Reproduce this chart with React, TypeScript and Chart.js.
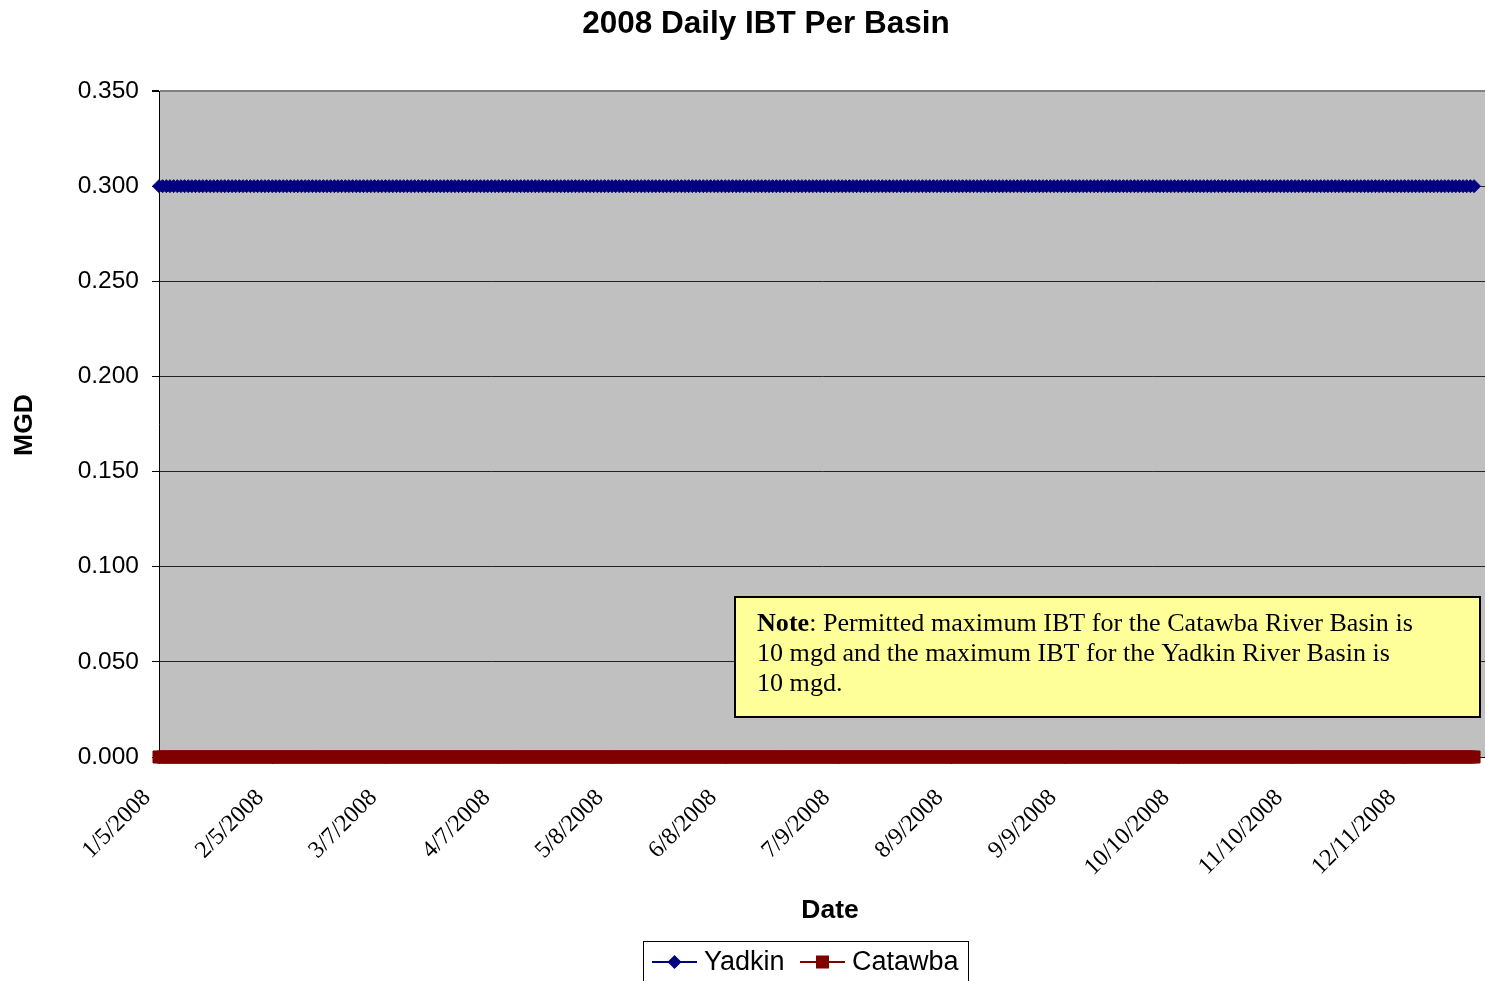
import React, { useEffect, useRef } from "react";
import { Chart, registerables } from "chart.js";

Chart.register(...registerables);

const chartTitle = "2008 Daily IBT Per Basin";
const yAxisTitle = "MGD";
const xAxisTitle = "Date";
const seriesNames = ["Yadkin", "Catawba"];
const seriesColors = ["#000080", "#800000"];

// day offsets (from 1/5/2008) of the category ticks and their labels
const tickDays = [0, 31, 62, 93, 124, 155, 186, 217, 248, 279, 310, 341];
const tickLabels = [
  "1/5/2008", "2/5/2008", "3/7/2008", "4/7/2008", "5/8/2008", "6/8/2008",
  "7/9/2008", "8/9/2008", "9/9/2008", "10/10/2008", "11/10/2008", "12/11/2008",
];
const yTicks = [0, 0.05, 0.1, 0.15, 0.2, 0.25, 0.3, 0.35];

// daily values, 1/5/2008 .. 12/30/2008 (361 days)
const yadkin = [
  0.3,0.3,0.3,0.3,0.3, 0.3,0.3,0.3,0.3,0.3, 0.3,0.3,0.3,0.3,0.3, 0.3,0.3,0.3,0.3,
  0.3,0.3,0.3,0.3,0.3, 0.3,0.3,0.3,0.3,0.3, 0.3,0.3,0.3,0.3,0.3, 0.3,0.3,0.3,0.3,
  0.3,0.3,0.3,0.3,0.3, 0.3,0.3,0.3,0.3,0.3, 0.3,0.3,0.3,0.3,0.3, 0.3,0.3,0.3,0.3,
  0.3,0.3,0.3,0.3,0.3, 0.3,0.3,0.3,0.3,0.3, 0.3,0.3,0.3,0.3,0.3, 0.3,0.3,0.3,0.3,
  0.3,0.3,0.3,0.3,0.3, 0.3,0.3,0.3,0.3,0.3, 0.3,0.3,0.3,0.3,0.3, 0.3,0.3,0.3,0.3,
  0.3,0.3,0.3,0.3,0.3, 0.3,0.3,0.3,0.3,0.3, 0.3,0.3,0.3,0.3,0.3, 0.3,0.3,0.3,0.3,
  0.3,0.3,0.3,0.3,0.3, 0.3,0.3,0.3,0.3,0.3, 0.3,0.3,0.3,0.3,0.3, 0.3,0.3,0.3,0.3,
  0.3,0.3,0.3,0.3,0.3, 0.3,0.3,0.3,0.3,0.3, 0.3,0.3,0.3,0.3,0.3, 0.3,0.3,0.3,0.3,
  0.3,0.3,0.3,0.3,0.3, 0.3,0.3,0.3,0.3,0.3, 0.3,0.3,0.3,0.3,0.3, 0.3,0.3,0.3,0.3,
  0.3,0.3,0.3,0.3,0.3, 0.3,0.3,0.3,0.3,0.3, 0.3,0.3,0.3,0.3,0.3, 0.3,0.3,0.3,0.3,
  0.3,0.3,0.3,0.3,0.3, 0.3,0.3,0.3,0.3,0.3, 0.3,0.3,0.3,0.3,0.3, 0.3,0.3,0.3,0.3,
  0.3,0.3,0.3,0.3,0.3, 0.3,0.3,0.3,0.3,0.3, 0.3,0.3,0.3,0.3,0.3, 0.3,0.3,0.3,0.3,
  0.3,0.3,0.3,0.3,0.3, 0.3,0.3,0.3,0.3,0.3, 0.3,0.3,0.3,0.3,0.3, 0.3,0.3,0.3,0.3,
  0.3,0.3,0.3,0.3,0.3, 0.3,0.3,0.3,0.3,0.3, 0.3,0.3,0.3,0.3,0.3, 0.3,0.3,0.3,0.3,
  0.3,0.3,0.3,0.3,0.3, 0.3,0.3,0.3,0.3,0.3, 0.3,0.3,0.3,0.3,0.3, 0.3,0.3,0.3,0.3,
  0.3,0.3,0.3,0.3,0.3, 0.3,0.3,0.3,0.3,0.3, 0.3,0.3,0.3,0.3,0.3, 0.3,0.3,0.3,0.3,
  0.3,0.3,0.3,0.3,0.3, 0.3,0.3,0.3,0.3,0.3, 0.3,0.3,0.3,0.3,0.3, 0.3,0.3,0.3,0.3,
  0.3,0.3,0.3,0.3,0.3, 0.3,0.3,0.3,0.3,0.3, 0.3,0.3,0.3,0.3,0.3, 0.3,0.3,0.3,0.3,
  0.3,0.3,0.3,0.3,0.3, 0.3,0.3,0.3,0.3,0.3, 0.3,0.3,0.3,0.3,0.3, 0.3,0.3,0.3,0.3,
];
const catawba = [
  0,0,0,0,0, 0,0,0,0,0, 0,0,0,0,0, 0,0,0,0,
  0,0,0,0,0, 0,0,0,0,0, 0,0,0,0,0, 0,0,0,0,
  0,0,0,0,0, 0,0,0,0,0, 0,0,0,0,0, 0,0,0,0,
  0,0,0,0,0, 0,0,0,0,0, 0,0,0,0,0, 0,0,0,0,
  0,0,0,0,0, 0,0,0,0,0, 0,0,0,0,0, 0,0,0,0,
  0,0,0,0,0, 0,0,0,0,0, 0,0,0,0,0, 0,0,0,0,
  0,0,0,0,0, 0,0,0,0,0, 0,0,0,0,0, 0,0,0,0,
  0,0,0,0,0, 0,0,0,0,0, 0,0,0,0,0, 0,0,0,0,
  0,0,0,0,0, 0,0,0,0,0, 0,0,0,0,0, 0,0,0,0,
  0,0,0,0,0, 0,0,0,0,0, 0,0,0,0,0, 0,0,0,0,
  0,0,0,0,0, 0,0,0,0,0, 0,0,0,0,0, 0,0,0,0,
  0,0,0,0,0, 0,0,0,0,0, 0,0,0,0,0, 0,0,0,0,
  0,0,0,0,0, 0,0,0,0,0, 0,0,0,0,0, 0,0,0,0,
  0,0,0,0,0, 0,0,0,0,0, 0,0,0,0,0, 0,0,0,0,
  0,0,0,0,0, 0,0,0,0,0, 0,0,0,0,0, 0,0,0,0,
  0,0,0,0,0, 0,0,0,0,0, 0,0,0,0,0, 0,0,0,0,
  0,0,0,0,0, 0,0,0,0,0, 0,0,0,0,0, 0,0,0,0,
  0,0,0,0,0, 0,0,0,0,0, 0,0,0,0,0, 0,0,0,0,
  0,0,0,0,0, 0,0,0,0,0, 0,0,0,0,0, 0,0,0,0,
];

const noteBold = "Note";
const noteLines = [
  ": Permitted maximum IBT for the Catawba River Basin is",
  "10 mgd and the maximum IBT for the Yadkin River Basin is",
  "10 mgd.",
];

const SANS = "'Liberation Sans', Arial, sans-serif";
const SERIF = "'Liberation Serif', 'Times New Roman', serif";

function drawMarker(ctx: CanvasRenderingContext2D, kind: number, x: number, y: number, color: string) {
  ctx.fillStyle = color;
  ctx.beginPath();
  if (kind === 0) {
    const r = 7;
    ctx.moveTo(x, y - r);
    ctx.lineTo(x + r, y);
    ctx.lineTo(x, y + r);
    ctx.lineTo(x - r, y);
    ctx.closePath();
  } else {
    ctx.rect(x - 6.5, y - 6.5, 13, 13);
  }
  ctx.fill();
}

const decorPlugin = {
  id: "decor",
  beforeDraw(chart: any) {
    const { ctx, chartArea: a } = chart;
    ctx.save();
    ctx.fillStyle = "#C0C0C0";
    ctx.fillRect(a.left, a.top, a.right - a.left, a.bottom - a.top);
    ctx.restore();
  },
  afterDraw(chart: any) {
    const { ctx } = chart;
    ctx.save();
    ctx.fillStyle = "#000";
    // title
    ctx.font = `bold 31.5px ${SANS}`;
    ctx.textAlign = "center";
    ctx.textBaseline = "middle";
    ctx.fillText(chartTitle, 766, 24);
    // axis titles
    ctx.font = `bold 26.5px ${SANS}`;
    ctx.fillText(xAxisTitle, 830, 911);
    ctx.save();
    ctx.translate(25, 425);
    ctx.rotate(-Math.PI / 2);
    ctx.fillText(yAxisTitle, 0, 0);
    ctx.restore();

    // note box
    ctx.fillStyle = "#FFFF99";
    ctx.fillRect(735, 597, 745, 120);
    ctx.strokeStyle = "#000";
    ctx.lineWidth = 2;
    ctx.strokeRect(735, 597, 745, 120);
    let fs = 22;
    ctx.font = `bold ${fs}px ${SERIF}`;
    let wb = ctx.measureText(noteBold).width;
    ctx.font = `${fs}px ${SERIF}`;
    let wr = ctx.measureText(noteLines[0]).width;
    fs = fs * 656 / (wb + wr);
    ctx.textAlign = "left";
    ctx.textBaseline = "alphabetic";
    ctx.fillStyle = "#000";
    ctx.font = `bold ${fs}px ${SERIF}`;
    ctx.fillText(noteBold, 757, 631);
    wb = ctx.measureText(noteBold).width;
    ctx.font = `${fs}px ${SERIF}`;
    ctx.fillText(noteLines[0], 757 + wb, 631);
    ctx.fillText(noteLines[1], 757, 661);
    ctx.fillText(noteLines[2], 757, 691);

    // legend
    ctx.fillStyle = "#FFFFFF";
    ctx.fillRect(643, 941, 325, 50);
    ctx.strokeStyle = "#000";
    ctx.lineWidth = 1;
    ctx.strokeRect(643.5, 941.5, 325, 50);
    const items = [
      { lx: 652, tx: 704 },
      { lx: 800, tx: 852 },
    ];
    items.forEach((it, i) => {
      const y = 962;
      ctx.strokeStyle = seriesColors[i];
      ctx.lineWidth = 2;
      ctx.beginPath();
      ctx.moveTo(it.lx, y);
      ctx.lineTo(it.lx + 45, y);
      ctx.stroke();
      drawMarker(ctx, i, it.lx + 22.5, y, seriesColors[i]);
      ctx.fillStyle = "#000";
      ctx.font = `27px ${SANS}`;
      ctx.textAlign = "left";
      ctx.textBaseline = "middle";
      ctx.fillText(seriesNames[i], it.tx, y + 1);
    });
    ctx.restore();
  },
};

export default function App() {
  const ref = useRef<HTMLCanvasElement | null>(null);
  useEffect(() => {
    if (!ref.current) return;
    const toPoints = (arr: number[]) => arr.map((v, i) => ({ x: i, y: v }));
    const chart = new Chart(ref.current, {
      type: "line",
      data: {
        datasets: [
          {
            label: seriesNames[0],
            data: toPoints(yadkin),
            borderColor: seriesColors[0],
            backgroundColor: seriesColors[0],
            pointBackgroundColor: seriesColors[0],
            pointBorderColor: seriesColors[0],
            pointStyle: "rectRot",
            pointRadius: 6.5,
            pointBorderWidth: 1,
            borderWidth: 2,
            clip: false,
          } as any,
          {
            label: seriesNames[1],
            data: toPoints(catawba),
            borderColor: seriesColors[1],
            backgroundColor: seriesColors[1],
            pointBackgroundColor: seriesColors[1],
            pointBorderColor: seriesColors[1],
            pointStyle: "rect",
            pointRadius: 8.5,
            pointBorderWidth: 1,
            borderWidth: 2,
            clip: false,
          } as any,
        ],
      },
      options: {
        animation: false,
        responsive: false,
        devicePixelRatio: 1,
        layout: { autoPadding: false, padding: { top: 91, left: 0, right: 0, bottom: 0 } },
        plugins: {
          legend: { display: false },
          title: { display: false },
          tooltip: { enabled: false },
        },
        scales: {
          x: {
            type: "linear",
            min: 0,
            max: 363,
            afterBuildTicks: (s: any) => {
              s.ticks = tickDays.map((v) => ({ value: v }));
            },
            ticks: {
              autoSkip: false,
              maxRotation: 45,
              minRotation: 45,
              padding: 20,
              labelOffset: -12,
              color: "#000",
              font: { family: SERIF, size: 24 },
              callback: (v: any) => {
                const i = tickDays.indexOf(Number(v));
                return i >= 0 ? tickLabels[i] : "";
              },
            },
            grid: { drawOnChartArea: false, drawTicks: true, tickLength: 7, color: "#000" },
            border: { display: true, color: "#000", width: 1 },
            afterFit: (s: any) => {
              s.height = 224;
              s.paddingLeft = 0;
              s.paddingRight = 0;
            },
          },
          y: {
            min: 0,
            max: 0.35,
            afterBuildTicks: (s: any) => {
              s.ticks = yTicks.map((v) => ({ value: v }));
            },
            ticks: {
              padding: 13,
              color: "#000",
              font: { family: SANS, size: 24.5 },
              callback: (v: any) => Number(v).toFixed(3),
            },
            grid: {
              color: (c: any) => (c.tick && c.tick.value >= 0.35 ? "#808080" : "#222"),
              lineWidth: (c: any) => (c.tick && c.tick.value >= 0.35 ? 2 : 1),
              tickColor: "#000",
              tickLength: 7,
            },
            border: { display: true, color: "#000", width: 1 },
            afterFit: (s: any) => {
              s.width = 159;
            },
          },
        },
      } as any,
      plugins: [decorPlugin],
    });
    return () => chart.destroy();
  }, []);
  return (
    <div style={{ position: "absolute", left: 0, top: 0, width: 1485, height: 981, background: "#fff" }}>
      <canvas ref={ref} width={1485} height={981} style={{ display: "block" }} />
    </div>
  );
}
